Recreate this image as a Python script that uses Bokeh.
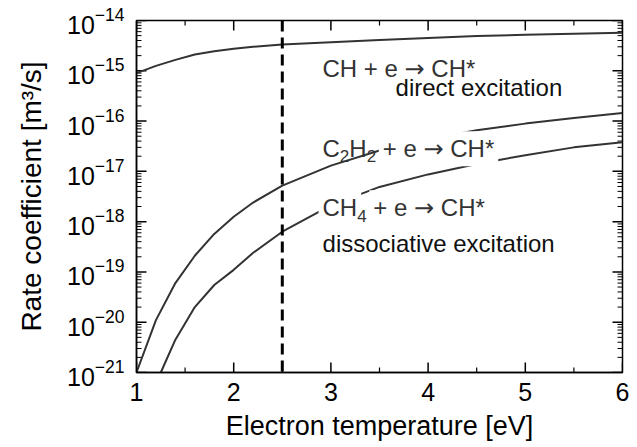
from bokeh.plotting import figure
from bokeh.models import FixedTicker, Span, Label
from bokeh.embed import file_html
from bokeh.resources import INLINE

# ---------------- data ----------------
temp_ch = [1.0, 1.2, 1.4, 1.6, 1.8, 2.0, 2.2, 2.5, 3.0, 3.5, 4.0, 4.5, 5.0, 5.5, 6.0]
rate_ch = [9.0e-16, 1.25e-15, 1.65e-15, 2.1e-15, 2.45e-15, 2.75e-15, 3.0e-15,
           3.35e-15, 3.7e-15, 4.1e-15, 4.5e-15, 4.9e-15, 5.2e-15, 5.45e-15, 5.7e-15]

temp_c2h2 = [1.0, 1.2, 1.4, 1.6, 1.8, 2.0, 2.2, 2.5, 3.0, 3.5, 4.0, 4.5, 5.0, 5.5, 6.0]
rate_c2h2 = [1.0e-21, 1.1e-20, 6.0e-20, 2.1e-19, 5.7e-19, 1.25e-18, 2.4e-18,
             5.2e-18, 1.3e-17, 2.6e-17, 4.4e-17, 6.6e-17, 8.9e-17, 1.15e-16, 1.45e-16]

temp_ch4 = [1.25, 1.4, 1.6, 1.8, 2.0, 2.2, 2.5, 3.0, 3.5, 4.0, 4.5, 5.0, 5.5, 6.0]
rate_ch4 = [1.0e-21, 4.5e-21, 2.0e-20, 5.5e-20, 1.1e-19, 2.4e-19, 6.3e-19,
            2.1e-18, 4.9e-18, 8.7e-18, 1.4e-17, 2.1e-17, 3.0e-17, 3.8e-17]

marked_temp = 2.5          # dashed vertical line
x_limits = (1, 6)
y_limits = (1e-21, 1e-14)

x_major_ticks = [1, 2, 3, 4, 5, 6]
x_minor_ticks = [1.5, 2.5, 3.5, 4.5, 5.5]
y_major_ticks = [1e-21, 1e-20, 1e-19, 1e-18, 1e-17, 1e-16, 1e-15, 1e-14]
y_minor_ticks = [m * d for d in y_major_ticks[:-1] for m in range(2, 10)]

x_title = "Electron temperature [eV]"
y_title = "Rate coefficient [m³/s]"

# ---------------- style ----------------
FONT = "Liberation Sans"
ARROW_FONT = "DejaVu Sans"
CURVE = "#333333"
ANN = "#333333"
FRAME_W, FRAME_H = 486, 352          # plot-area size in pixels
MAJOR_LEN, MINOR_LEN = 10, 5         # inward tick lengths in pixels

p = figure(width=637, height=447, x_range=x_limits, y_range=y_limits,
           y_axis_type="log", output_backend="svg", toolbar_location=None,
           min_border_left=136, min_border_right=15, min_border_top=20,
           min_border_bottom=75)
p.background_fill_color = None
p.border_fill_color = None
p.xgrid.visible = False
p.ygrid.visible = False
p.outline_line_color = "black"
p.outline_line_width = 1.5

p.xaxis.ticker = FixedTicker(ticks=x_major_ticks)
p.yaxis.ticker = FixedTicker(ticks=y_major_ticks)

for ax in p.xaxis + p.yaxis:
    ax.axis_line_color = "black"
    ax.axis_line_width = 1.5
    ax.major_tick_in = 0
    ax.major_tick_out = 0
    ax.minor_tick_in = 0
    ax.minor_tick_out = 0
    ax.major_label_text_font = FONT
    ax.axis_label_text_font = FONT
    ax.axis_label_text_font_style = "normal"
    ax.major_label_text_color = "black"
    ax.axis_label_text_color = "black"
    ax.major_label_text_font_size = "25px"

for ax in p.xaxis:
    ax.axis_label = x_title
    ax.axis_label_text_font_size = "27px"
    ax.major_label_standoff = 10
    ax.axis_label_standoff = 7
for ax in p.yaxis:
    ax.axis_label = y_title
    ax.axis_label_text_font_size = "28px"
    ax.major_label_standoff = 12
    ax.axis_label_standoff = 17

# ---------------- tick marks (inward, on all four sides) ----------------
x0, x1 = x_limits
y0, y1 = y_limits
dec_per_px = 7.0 / FRAME_H
unit_per_px = 5.0 / FRAME_W

for ticks, length, width in ((x_major_ticks, MAJOR_LEN, 1.5), (x_minor_ticks, MINOR_LEN, 1.2)):
    f = 10 ** (length * dec_per_px)
    for t in ticks:
        p.line([t, t], [y0, y0 * f], line_color="black", line_width=width)
        p.line([t, t], [y1, y1 / f], line_color="black", line_width=width)
for ticks, length, width in ((y_major_ticks, MAJOR_LEN, 1.5), (y_minor_ticks, MINOR_LEN, 1.0)):
    d = length * unit_per_px
    for t in ticks:
        p.line([x0, x0 + d], [t, t], line_color="black", line_width=width)
        p.line([x1, x1 - d], [t, t], line_color="black", line_width=width)

# ---------------- curves ----------------
p.line(temp_ch, rate_ch, line_color=CURVE, line_width=2)
p.line(temp_c2h2, rate_c2h2, line_color=CURVE, line_width=2)
p.line(temp_ch4, rate_ch4, line_color=CURVE, line_width=2)

p.add_layout(Span(location=marked_temp, dimension="height", line_color="black",
                  line_width=3, line_dash="11 6"))

# ---------------- annotations ----------------
PAD = 4


def lab(x, y, text, size="24px", dx=0, dy=0, bg=None, font=FONT, color=ANN):
    kw = dict(x=x, y=y, text=text, x_offset=dx, y_offset=dy,
              text_font=font, text_font_size=size, text_color=color,
              text_align="left", text_baseline="alphabetic")
    if bg:
        kw["background_fill_color"] = bg
        kw["padding"] = PAD
        kw["x_offset"] = dx - PAD
    p.add_layout(Label(**kw))


ax0 = 2.914
ya = 1.1e-15
lab(ax0, ya, "CH + e")
lab(ax0, ya, "→", dx=82.0, font=ARROW_FONT)
lab(ax0, ya, "CH*", dx=108.8)
lab(3.665, 4.6e-16, "direct excitation", color="#111111")

yb = 2.8e-17
lab(ax0, yb, "C")
lab(ax0, yb, "2", size="17px", dx=17.3, dy=-7)
lab(ax0, yb, "H", dx=26.8)
lab(ax0, yb, "2", size="17px", dx=44.1, dy=-7)
lab(ax0, yb, "+ e", dx=60.2, bg="white")
lab(ax0, yb, "→", dx=100.9, bg="white", font=ARROW_FONT)
lab(ax0, yb, "CH*", dx=127.7, bg="white")

yc = 1.9e-18
lab(ax0, yc, "CH", bg="white")
lab(ax0, yc, "4", size="17px", dx=34.7, dy=-8)
lab(ax0, yc, "+ e", dx=50.8, bg="white")
lab(ax0, yc, "→", dx=91.5, bg="white", font=ARROW_FONT)
lab(ax0, yc, "CH*", dx=118.3, bg="white")
lab(ax0, 3.6e-19, "dissociative excitation", color="#111111")

open("out.html", "w").write(file_html(p, INLINE))
